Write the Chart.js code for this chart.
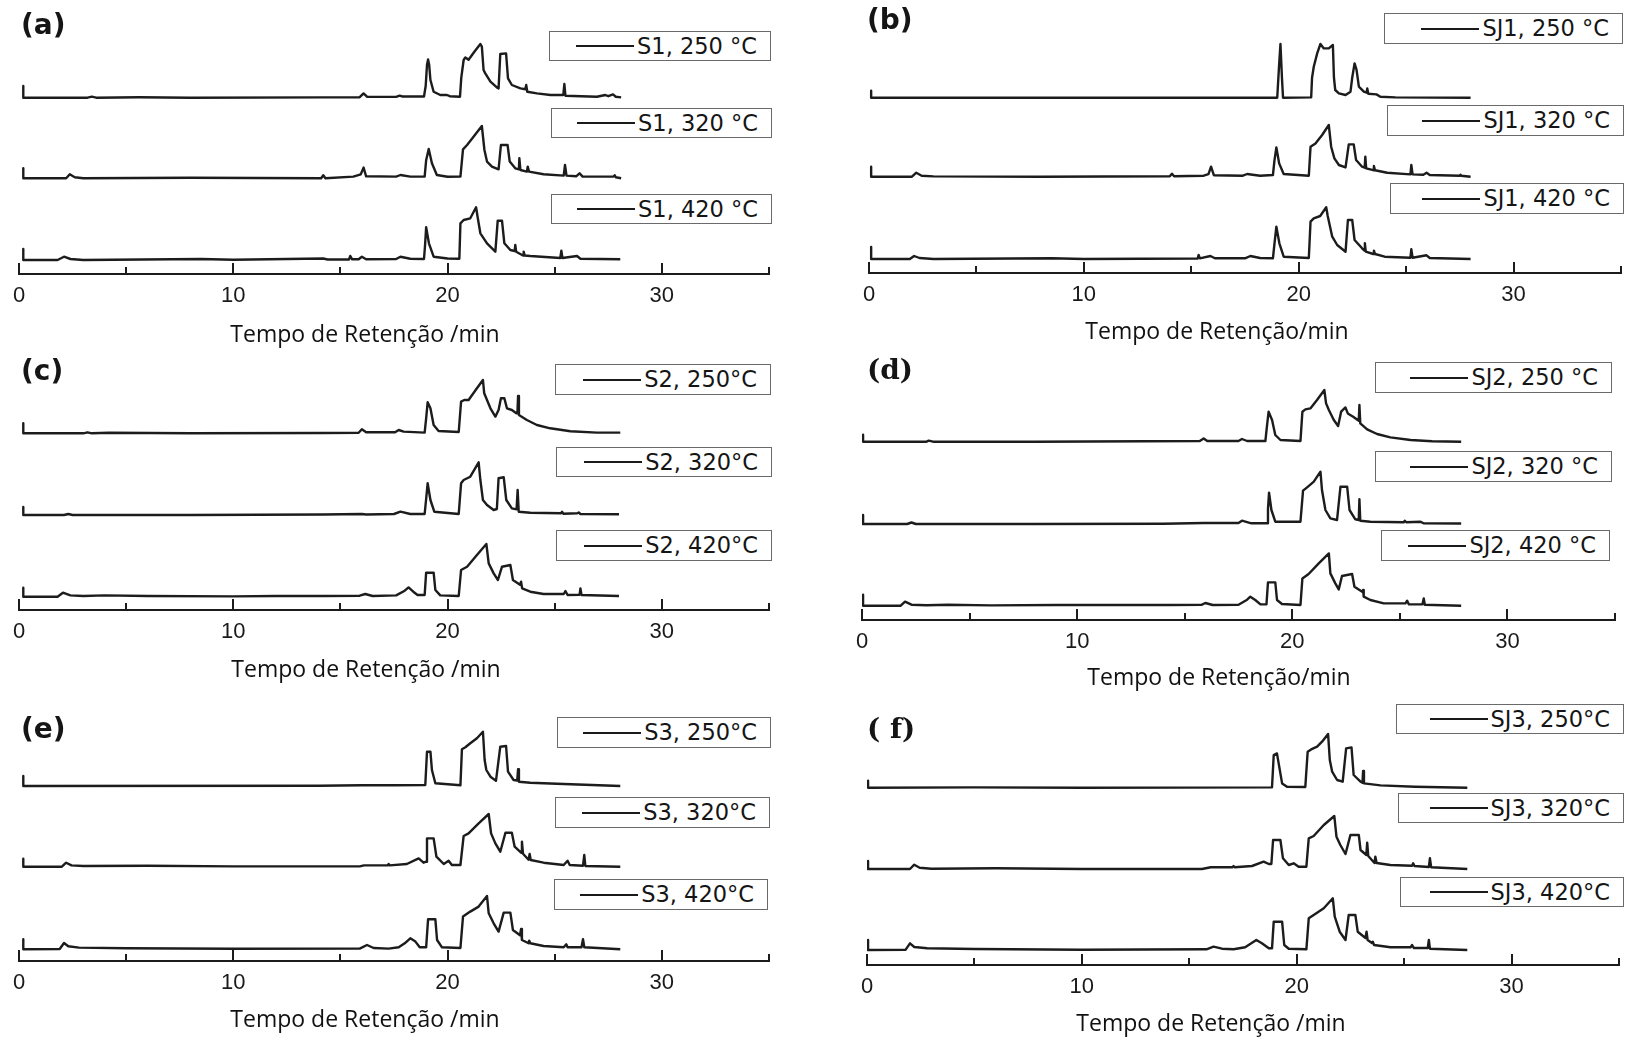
<!DOCTYPE html>
<html>
<head>
<meta charset="utf-8">
<title>Cromatogramas - Tempo de Retenção</title>
<script src="https://cdn.jsdelivr.net/npm/chart.js@4.4.1/dist/chart.umd.min.js"></script>
<style>
  html, body { margin: 0; padding: 0; background: #fff; }
  #fig { position: relative; width: 1626px; height: 1038px; overflow: hidden; background: #fff; }
  #fig canvas { position: absolute; }
  .plabel { position: absolute; font-weight: bold; color: #151515; white-space: nowrap; line-height: 1; }
  .sans { font-family: "DejaVu Sans", "Liberation Sans", sans-serif; }
  .serif { font-family: "DejaVu Serif", "Liberation Serif", serif; }
  .xtitle { position: absolute; font-family: "Open Sans", "Liberation Sans", sans-serif; font-size: 23px; color: #111;
            white-space: nowrap; transform: translate(-50%, -50%); line-height: 1; }
  .lg { position: absolute; box-sizing: border-box; border: 1.5px solid #6a6a6a; background: #fff;
        display: flex; align-items: center; justify-content: flex-end; padding-right: 13px; }
  .lg .ln { display: inline-block; width: 58px; height: 2px; background: #1a1a1a; margin-right: 3px; }
  .lg .tx { font-family: "DejaVu Sans", "Liberation Sans", sans-serif; font-size: 22.5px; color: #151515; white-space: nowrap; line-height: 1; }
</style>
</head>
<body>
<div id="fig"></div>
<script>
// ---- retention-time axis ----
const timeMin = 0;
const timeMax = 35;
const majorTicks = [0, 10, 20, 30];
const minorTicks = [5, 15, 25, 35];

// ---- chromatograms: [retention time (min), intensity (a.u.)] ----
const S1_250 = [[0.2,11.7],[0.2,0],[3.2,0],[3.4,1],[3.6,0],[5.6,0.5],[8,0],[14.2,0.3],[15.9,0.5],[16.08,4.3],[16.25,0.8],[17.6,0.8],[17.76,2],[17.9,1.2],[18.9,1.2],[18.98,12],[19.04,33],[19.09,38.3],[19.14,33],[19.2,17.7],[19.35,6],[19.66,2.7],[19.97,2.7],[20.1,1.5],[20.58,1],[20.64,20],[20.75,37.7],[20.83,40.3],[20.98,38],[21.25,46],[21.53,53.7],[21.6,51],[21.68,27.7],[21.76,24.3],[22.0,16],[22.3,10.3],[22.38,9.3],[22.46,43.7],[22.73,44.3],[22.82,19.3],[23.0,12.7],[23.4,9.3],[23.63,8.5],[23.67,12.7],[23.72,6],[24.17,4.3],[24.8,2.7],[25.4,2.7],[25.45,13.7],[25.5,2],[26.97,1],[27.36,2.7],[27.5,1.5],[27.72,3.3],[27.85,1],[28.1,0.3]];
const S1_320 = [[0.2,10],[0.2,0],[2.2,0],[2.37,4],[2.6,1],[3.0,0],[8,0.5],[14.1,0],[14.2,3],[14.3,0],[15.6,1.7],[15.95,4],[16.08,10.7],[16.2,2],[17.6,1.7],[17.8,3.3],[18.26,1.7],[18.93,1.7],[19.0,18],[19.12,29.3],[19.27,15],[19.5,3.3],[20.0,1.5],[20.6,1.7],[20.72,29],[20.91,33.3],[21.22,41.7],[21.6,52.3],[21.72,28.3],[21.84,16.7],[22.07,11.7],[22.38,9],[22.49,33.3],[22.8,33.3],[22.9,16.7],[23.16,10],[23.33,9],[23.35,20],[23.4,8.3],[23.7,6.7],[23.74,11.7],[23.8,6.7],[24.48,4],[25.42,2.7],[25.48,13.3],[25.55,2.7],[26.0,2],[26.16,5],[26.3,1.7],[27.75,1.7],[27.8,3],[27.85,1],[28.1,0]];
const S1_420 = [[0.2,11],[0.2,0],[1.8,0],[2.1,3.3],[2.4,1],[3,0],[8.5,1],[10,0.3],[14.2,1.5],[14.4,0.5],[15.4,0.5],[15.46,4],[15.55,0.7],[15.85,0.7],[16.0,3.3],[16.2,0.7],[17.6,1],[17.8,3.3],[18.26,1.3],[18.9,1],[18.95,15],[19.0,32.7],[19.13,16.7],[19.35,3.3],[20.0,1.5],[20.55,1.3],[20.6,36.7],[20.75,40],[21.06,41.7],[21.33,52.7],[21.4,43.3],[21.53,26.7],[21.84,16.7],[22.23,8.3],[22.34,39.3],[22.54,39.3],[22.65,16.7],[22.93,10],[23.13,9],[23.16,15],[23.2,8.3],[23.52,4.5],[23.55,8.3],[23.6,4.5],[23.86,4],[25.26,2],[25.31,9.3],[25.36,2],[26.04,4],[26.2,1.3],[28.06,0.7]];

const SJ1_250 = [[0.1,7],[0.1,0],[19.0,0],[19.08,30],[19.15,53.7],[19.22,20],[19.27,0],[20.58,0.3],[20.62,20],[20.7,31],[20.86,44.3],[21.01,53.7],[21.17,49.3],[21.4,49.3],[21.59,52.7],[21.64,20],[21.7,7.7],[21.87,4.3],[22.18,2.7],[22.41,6],[22.49,20],[22.6,34.3],[22.69,28],[22.8,11],[23.03,6],[23.16,5],[23.19,9.3],[23.24,4],[23.62,3.3],[23.8,1],[24.5,0.3],[28.0,0]];
const SJ1_320 = [[0.1,10],[0.1,0],[2.0,0],[2.2,4],[2.45,1],[3,0.3],[8,0],[14.0,0.5],[14.1,3],[14.2,0.5],[15.58,1],[15.8,2.5],[15.92,10],[16.05,1.5],[17.4,1],[17.6,2.7],[18.2,1],[18.8,1.7],[18.87,16],[18.96,29.3],[19.09,13.3],[19.3,2.7],[20.47,1],[20.55,30],[20.78,33.3],[21.09,41.7],[21.4,51.7],[21.51,30],[21.66,18.3],[21.87,11.7],[22.18,9.3],[22.33,32.3],[22.56,32.3],[22.67,16.7],[22.95,10],[23.07,9],[23.1,20],[23.14,8.3],[23.47,6.5],[23.5,10.7],[23.55,6.5],[24.12,4],[25.2,2.3],[25.24,11.7],[25.3,2.3],[25.8,2],[25.95,4],[26.1,1.7],[27.5,1],[27.53,2],[27.56,1],[28.0,0]];
const SJ1_420 = [[0.1,12],[0.1,0],[1.9,0],[2.1,3],[2.35,1],[3,0],[8.5,0.7],[10,0],[15.3,0.5],[15.34,4],[15.4,0.7],[15.89,3],[16.1,0.7],[17.5,0.7],[17.75,3],[18.2,1],[18.8,0.7],[18.87,15],[18.96,32.3],[19.1,15.7],[19.3,2.3],[20.47,1],[20.55,37.3],[20.7,40.7],[21.0,43],[21.28,51.7],[21.35,43],[21.56,22.3],[21.79,14],[22.18,7.3],[22.29,39],[22.49,39],[22.6,19],[22.95,10.7],[23.05,8.5],[23.08,15.7],[23.12,7.3],[23.47,5],[23.5,8.3],[23.55,5],[24.0,2.3],[25.2,1.3],[25.24,9.7],[25.3,1.3],[25.95,3.7],[26.1,1],[28.0,0]];

const S2_250 = [[0.2,10],[0.2,0],[3.0,0],[3.2,1],[3.4,0],[4.2,0.5],[8,0],[14.2,0.3],[15.85,0.5],[16.0,4],[16.2,1],[17.55,1],[17.72,3.3],[17.95,1.7],[18.93,0.7],[19.0,15],[19.07,31],[19.2,25],[19.35,8.3],[19.58,2.3],[20.52,1.3],[20.63,31.7],[20.78,33.3],[20.98,33.3],[21.37,45],[21.65,53.3],[21.71,40],[21.84,33.3],[22.0,25],[22.23,16.7],[22.38,23.3],[22.49,35],[22.65,35],[22.77,25],[23.0,23.3],[23.21,20],[23.26,20],[23.29,37.3],[23.33,18.3],[23.7,13.3],[24.17,8.3],[24.79,5],[25.73,2],[26.97,0.7],[28.06,0.7]];
const S2_320 = [[0.2,8],[0.2,0],[2.1,0],[2.3,1],[2.5,0],[8,0],[14.2,0.5],[16.0,1],[16.2,0.5],[17.5,1],[17.8,3.3],[18.26,1],[18.93,1],[19.0,16],[19.07,31.7],[19.2,15],[19.38,3.3],[20.52,1],[20.63,31.7],[20.75,35],[21.06,38.3],[21.45,52.7],[21.53,35],[21.65,15],[21.84,10],[22.15,5],[22.3,6],[22.38,36.7],[22.62,37.7],[22.74,15],[23.0,6.7],[23.22,5.7],[23.27,25],[23.32,3.3],[23.86,2.3],[25.3,1.7],[25.34,3.3],[25.4,1.3],[26.05,1.7],[26.12,2.5],[26.2,1],[28.0,0.7]];
const S2_420 = [[0.2,9],[0.2,0],[1.8,0],[2.05,4],[2.4,1.3],[3,0.7],[4,1.3],[6,0.7],[10,0.3],[12,0.7],[14.2,0.7],[15.9,1],[16.16,2.7],[16.5,0.7],[17.6,1.3],[18.0,6],[18.18,9.3],[18.4,5],[18.6,1.7],[18.93,1.7],[19.0,24],[19.35,24],[19.43,6.7],[19.66,1.3],[20.52,0.7],[20.63,26.7],[20.91,30],[21.37,41.7],[21.81,52.7],[21.92,33.3],[22.15,23.3],[22.35,16.7],[22.54,30],[22.93,31.7],[23.05,16.7],[23.38,12],[23.43,15],[23.48,8.3],[23.86,5],[24.48,2.7],[25.42,2.7],[25.5,5.7],[25.6,1.7],[26.16,2],[26.2,8.3],[26.25,1.7],[28.0,0.7]];

const SJ2_250 = [[0.05,7],[0.05,0],[3.0,0],[3.1,1],[3.3,0],[8,0],[15.7,0.7],[15.88,3.3],[16.05,0.7],[17.5,0.7],[17.66,2.7],[17.9,0.7],[18.75,0.7],[18.82,15],[18.9,30],[19.06,21.7],[19.21,6.7],[19.45,1.7],[20.38,0.7],[20.47,30],[20.61,32.3],[20.84,33.3],[21.15,41.7],[21.49,51.7],[21.57,38.3],[21.7,31.7],[21.93,21.7],[22.13,15.7],[22.27,30],[22.47,34.3],[22.58,28.3],[22.83,25],[23.04,21.7],[23.09,21],[23.12,36.7],[23.16,18.3],[23.48,12.3],[23.94,7.7],[24.56,4.3],[25.5,1.7],[26.5,0.5],[27.85,0]];
const SJ2_320 = [[0.05,9],[0.05,0],[2.1,0],[2.3,1.5],[2.5,0],[8,0],[14.0,0.3],[15.9,1],[17.5,1],[17.66,3.3],[18.1,0.7],[18.83,0.7],[18.87,15],[18.92,31.3],[19.03,14],[19.21,2.3],[20.38,2.3],[20.5,33.3],[20.69,36.7],[21.0,42.3],[21.31,52.3],[21.38,34],[21.54,14],[21.77,5.7],[22.08,4],[22.24,37.3],[22.55,37.3],[22.66,14],[22.93,4.7],[23.09,4],[23.12,24.7],[23.16,3.3],[23.63,2.3],[25.18,1.7],[25.23,3.3],[25.3,1.7],[25.96,2.3],[26.1,0.7],[27.85,0.5]];
const SJ2_420 = [[0.05,11],[0.05,0],[1.8,0],[2.0,4],[2.3,1],[3,0.5],[4,1],[6,0.3],[9,0.7],[12,0.7],[14.3,0.7],[15.8,1],[15.96,2.7],[16.3,0.7],[17.5,1],[17.9,6],[18.05,9],[18.28,5.7],[18.52,1.3],[18.8,1.3],[18.87,23.3],[19.21,23.3],[19.29,5.7],[19.52,1.7],[20.38,0.7],[20.47,27.3],[20.76,31.7],[21.23,42.3],[21.7,52.3],[21.77,32.3],[22.0,22.3],[22.16,16.3],[22.31,29.7],[22.78,31.7],[22.89,19],[23.25,14],[23.29,15.7],[23.32,9],[23.63,5.7],[24.25,2.3],[25.26,2.3],[25.34,5],[25.42,1.3],[26.05,1.5],[26.11,7.3],[26.16,1],[27.85,0]];

const S3_250 = [[0.2,10],[0.2,0],[14,0.3],[16.0,0.7],[17.5,0.7],[18.96,1],[19.04,34.3],[19.2,34.3],[19.27,16],[19.43,2.7],[20.6,0.7],[20.67,36.7],[20.83,38.7],[21.06,42.7],[21.37,47.7],[21.65,54.3],[21.73,26],[21.81,16],[22.0,9.3],[22.26,5.3],[22.46,39.3],[22.73,40],[22.82,14.3],[23.08,6],[23.25,5.5],[23.29,16.7],[23.33,4.3],[23.86,3.3],[25.42,2],[28.06,0]];
const S3_320 = [[0.2,8],[0.2,0],[2.0,0],[2.2,4],[2.45,1.3],[3,0.7],[6,1],[10,0.3],[15.9,0.3],[16.1,1.3],[17.2,1.3],[17.25,2.7],[17.3,1.3],[18.1,2.7],[18.65,8.3],[18.88,4],[19.0,5],[19.04,28.3],[19.35,28.3],[19.48,10],[19.82,2.7],[20.05,6],[20.2,1.7],[20.6,1.7],[20.75,30.7],[20.98,33.3],[21.45,43.3],[21.92,52.7],[22.03,33.3],[22.23,23.3],[22.46,15],[22.7,34],[23.0,34],[23.13,20],[23.43,14],[23.47,25],[23.52,13],[23.78,7],[23.83,12.7],[23.88,6.7],[24.48,4],[25.42,1.7],[25.6,6],[25.7,1.7],[26.32,1],[26.38,11.7],[26.43,0.7],[28.06,0]];
const S3_420 = [[0.2,10],[0.2,0],[1.9,0.3],[2.1,6.3],[2.3,3],[2.8,1.7],[5,1],[10,0.5],[15.9,0.7],[16.24,4.3],[16.55,1.3],[17.25,0.7],[17.72,2],[18.0,6],[18.26,11],[18.5,7.7],[18.7,2],[19.0,2],[19.09,30],[19.43,30],[19.51,9.3],[19.74,2],[20.6,1.3],[20.72,32.7],[21.06,37.7],[21.45,42.7],[21.84,53.3],[21.92,36],[22.15,26],[22.38,17.7],[22.62,36.7],[22.93,36.7],[23.05,19.3],[23.38,14],[23.43,20.3],[23.47,9.3],[23.78,6],[23.81,8.7],[23.86,6],[24.48,3.3],[25.42,2],[25.54,5],[25.6,2],[26.25,2],[26.32,10],[26.38,2],[28.06,0]];

const SJ3_250 = [[0.05,7],[0.05,0],[5,0.3],[10,0],[18.85,0.3],[18.93,32.7],[19.08,34.3],[19.16,24.3],[19.32,4.3],[19.55,1],[20.4,0.7],[20.51,36],[20.67,38.3],[20.95,41],[21.18,46],[21.46,53.7],[21.54,27.7],[21.65,16],[21.88,7.7],[22.14,6],[22.3,39.3],[22.55,40.3],[22.65,12.7],[22.97,6],[23.06,5],[23.09,16.7],[23.13,4.3],[23.9,2.3],[25.5,1],[27.94,0]];
const SJ3_320 = [[0.05,8],[0.05,0],[2.0,0],[2.2,4.3],[2.45,1.3],[3,0.3],[6,0.7],[10,0],[15.59,0],[16.0,1.7],[17.0,1.7],[17.06,3],[17.12,1.7],[17.92,3],[18.46,7.3],[18.7,5],[18.82,5],[18.9,29],[19.24,29],[19.36,10.7],[19.63,4],[19.86,5.7],[20.09,2.3],[20.45,2.3],[20.56,30.7],[20.79,33],[21.26,44],[21.75,53],[21.85,32.3],[22.03,24],[22.27,15],[22.5,34],[22.89,34],[22.97,19],[23.24,14],[23.28,26.3],[23.33,13],[23.62,6],[23.66,12.3],[23.72,6],[24.36,4],[25.37,3.3],[25.42,5.7],[25.48,3],[26.15,2],[26.2,10.7],[26.26,1.7],[27.94,0]];
const SJ3_420 = [[0.05,10],[0.05,0],[1.8,0.3],[2.0,6.7],[2.2,3],[2.8,1.7],[5,1],[10,0.3],[15.8,0.7],[16.13,3.3],[16.52,1.3],[17.06,0.7],[17.6,2.7],[18.12,10],[18.38,6.7],[18.7,1.7],[18.85,1.7],[18.93,28.3],[19.32,28.3],[19.42,5],[19.63,1.3],[20.45,0.7],[20.56,31.7],[20.79,35],[21.26,41.7],[21.68,51.7],[21.77,33.3],[22.0,18.3],[22.27,10],[22.42,35],[22.73,35],[22.84,18.3],[23.2,12],[23.25,18.3],[23.3,10],[23.5,7],[23.54,8.3],[23.6,5],[24.36,2.7],[25.3,2.7],[25.37,5],[25.45,2],[26.1,2],[26.15,10],[26.2,1.3],[27.94,0]];

// ---- series names ----
const legendA = ['S1, 250 °C', 'S1, 320 °C', 'S1, 420 °C'];
const legendB = ['SJ1, 250 °C', 'SJ1, 320 °C', 'SJ1, 420 °C'];
const legendC = ['S2, 250°C', 'S2, 320°C', 'S2, 420°C'];
const legendD = ['SJ2, 250 °C', 'SJ2, 320 °C', 'SJ2, 420 °C'];
const legendE = ['S3, 250°C', 'S3, 320°C', 'S3, 420°C'];
const legendF = ['SJ3, 250°C', 'SJ3, 320°C', 'SJ3, 420°C'];

const titleSpaced = 'Tempo de Retenção /min';
const titleTight = 'Tempo de Retenção/min';

// ---- panel layout (page pixels) ----
const PLOT_H = 250;   // plot area height; y-scale runs 0..PLOT_H
const SCALE_H = 46;   // height reserved for the time axis labels
const PAD_X = 24;

const panels = [
  { label: '(a)', labelFont: 'sans', labelPos: [21, 11], series: [S1_250, S1_320, S1_420], names: legendA,
    x0: 18.7, x35: 768.8, axisY: 274, offsets: [176.3, 95.7, 14], title: titleSpaced, titlePos: [365, 333],
    boxes: [[549, 31, 771, 61], [551, 108, 772, 138], [551, 194, 772, 224]] },
  { label: '(b)', labelFont: 'sans', labelPos: [867, 6], series: [SJ1_250, SJ1_320, SJ1_420], names: legendB,
    x0: 869, x35: 1620.5, axisY: 273, offsets: [175.3, 96.3, 14], title: titleTight, titlePos: [1217, 330],
    boxes: [[1384, 13, 1623, 44], [1387, 105, 1624, 136], [1390, 183, 1624, 214]] },
  { label: '(c)', labelFont: 'sans', labelPos: [21, 357], series: [S2_250, S2_320, S2_420], names: legendC,
    x0: 18.7, x35: 768.8, axisY: 610, offsets: [176.7, 95, 13.3], title: titleSpaced, titlePos: [366, 668],
    boxes: [[555, 364, 771, 395], [556, 447, 772, 477], [556, 530, 772, 561]] },
  { label: '(d)', labelFont: 'serif', labelPos: [867, 356], series: [SJ2_250, SJ2_320, SJ2_420], names: legendD,
    x0: 862, x35: 1614.5, axisY: 620, offsets: [178.3, 96, 14.3], title: titleTight, titlePos: [1219, 676],
    boxes: [[1375, 362, 1612, 393], [1375, 451, 1612, 482], [1381, 530, 1610, 561]] },
  { label: '(e)', labelFont: 'sans', labelPos: [21, 715], series: [S3_250, S3_320, S3_420], names: legendE,
    x0: 18.7, x35: 768.8, axisY: 961, offsets: [175, 94.3, 11.7], title: titleSpaced, titlePos: [365, 1018],
    boxes: [[557, 717, 771, 748], [555, 797, 770, 828], [554, 879, 768, 910]] },
  { label: '( f)', labelFont: 'serif', labelPos: [867, 715], series: [SJ3_250, SJ3_320, SJ3_420], names: legendF,
    x0: 867, x35: 1618.5, axisY: 965, offsets: [177.3, 96, 15], title: titleSpaced, titlePos: [1211, 1022],
    boxes: [[1396, 704, 1624, 734], [1398, 793, 1624, 823], [1400, 877, 1624, 907]] }
];

const INK = '#1c1c1c';

// Time axis drawn with inward (upward) tick marks, positioned from the x scale.
const timeAxisPlugin = {
  id: 'timeAxis',
  afterDatasetsDraw(chart) {
    const xs = chart.scales.x;
    const y = chart.chartArea.bottom;
    const ctx = chart.ctx;
    ctx.save();
    ctx.strokeStyle = INK;
    ctx.lineWidth = 2;
    ctx.lineCap = 'square';
    ctx.beginPath();
    ctx.moveTo(xs.getPixelForValue(timeMin), y);
    ctx.lineTo(xs.getPixelForValue(timeMax), y);
    ctx.stroke();
    ctx.lineCap = 'butt';
    ctx.beginPath();
    majorTicks.forEach(v => { const px = Math.round(xs.getPixelForValue(v)); ctx.moveTo(px, y); ctx.lineTo(px, y - 11); });
    minorTicks.forEach(v => { const px = Math.round(xs.getPixelForValue(v)); ctx.moveTo(px, y); ctx.lineTo(px, y - 7); });
    ctx.stroke();
    ctx.restore();
  }
};

const fig = document.getElementById('fig');

panels.forEach(p => {
  const cv = document.createElement('canvas');
  const w = Math.round(p.x35 - p.x0) + 2 * PAD_X;
  const h = PLOT_H + SCALE_H;
  cv.width = w; cv.height = h;
  cv.style.width = w + 'px'; cv.style.height = h + 'px';
  cv.style.left = Math.round(p.x0 - PAD_X) + 'px';
  cv.style.top = Math.round(p.axisY - PLOT_H) + 'px';
  fig.appendChild(cv);

  new Chart(cv, {
    type: 'line',
    data: {
      datasets: p.series.map((s, i) => ({
        label: p.names[i],
        data: s.map(([t, v]) => ({ x: t, y: v + p.offsets[i] })),
        borderColor: INK,
        borderWidth: 2.4,
        pointRadius: 0,
        tension: 0,
        fill: false,
        borderJoinStyle: 'round'
      }))
    },
    options: {
      responsive: false,
      animation: false,
      events: [],
      layout: { padding: { left: PAD_X, right: PAD_X, top: 0, bottom: 0 } },
      plugins: { legend: { display: false }, tooltip: { enabled: false }, title: { display: false } },
      scales: {
        x: {
          type: 'linear',
          min: timeMin,
          max: timeMax,
          afterBuildTicks: scale => { scale.ticks = majorTicks.map(v => ({ value: v })); },
          afterFit: scale => { scale.height = SCALE_H; },
          grid: { display: false, drawTicks: false },
          border: { display: false },
          ticks: {
            autoSkip: false,
            maxRotation: 0,
            padding: 9,
            color: '#1a1a1a',
            font: { family: '"Liberation Sans", Arial, sans-serif', size: 22 }
          }
        },
        y: { display: false, min: 0, max: PLOT_H }
      }
    },
    plugins: [timeAxisPlugin]
  });

  // panel letter
  const pl = document.createElement('div');
  pl.className = 'plabel ' + p.labelFont;
  pl.style.left = p.labelPos[0] + 'px';
  pl.style.top = p.labelPos[1] + 'px';
  pl.style.fontSize = '28px';
  pl.textContent = p.label;
  fig.appendChild(pl);

  // axis title
  const tt = document.createElement('div');
  tt.className = 'xtitle';
  tt.style.left = p.titlePos[0] + 'px';
  tt.style.top = p.titlePos[1] + 'px';
  tt.textContent = p.title;
  fig.appendChild(tt);

  // legend boxes, one beside each trace
  p.boxes.forEach((b, i) => {
    const lg = document.createElement('div');
    lg.className = 'lg';
    lg.style.left = b[0] + 'px';
    lg.style.top = b[1] + 'px';
    lg.style.width = (b[2] - b[0]) + 'px';
    lg.style.height = (b[3] - b[1]) + 'px';
    const ln = document.createElement('span');
    ln.className = 'ln';
    const tx = document.createElement('span');
    tx.className = 'tx';
    tx.textContent = p.names[i];
    lg.appendChild(ln);
    lg.appendChild(tx);
    fig.appendChild(lg);
  });
});
</script>
</body>
</html>
